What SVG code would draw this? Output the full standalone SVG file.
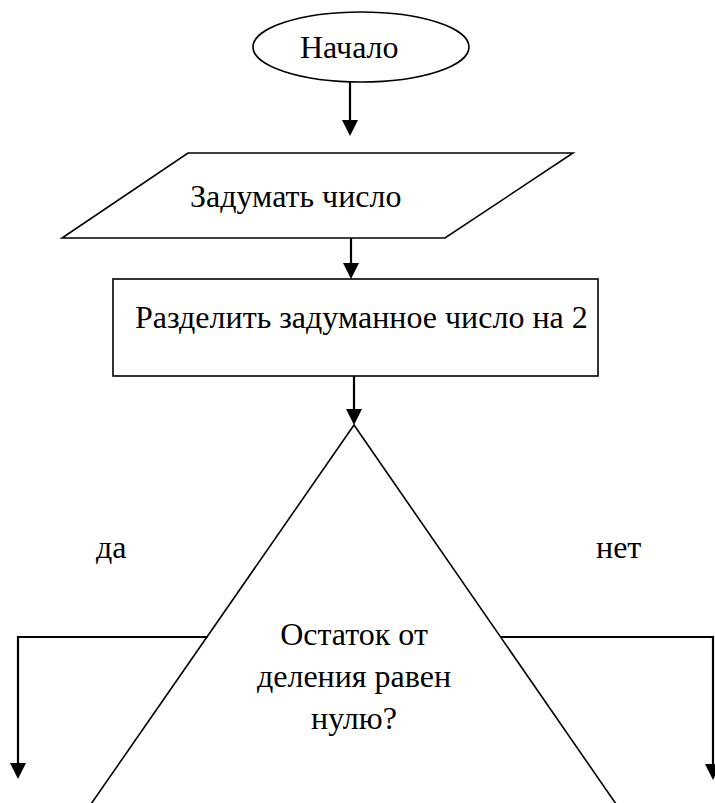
<svg xmlns="http://www.w3.org/2000/svg" width="715" height="803" viewBox="0 0 715 803">
<style>
.s{fill:#fff;stroke:#000;stroke-width:1.6}
.c{fill:none;stroke:#000;stroke-width:2.2}
text{font-family:"Liberation Serif","DejaVu Serif","Times New Roman",serif;font-size:32px;fill:#000}
</style>
<rect width="715" height="803" fill="#fff"/>
<g id="start">
<ellipse class="s" cx="361" cy="47" rx="108" ry="35"/>
<text x="300" y="58" font-family="Liberation Serif, serif">Начало</text>
</g>
<g id="input">
<polygon class="s" points="188,153 573,153 445,238 62,238"/>
<text x="190" y="207" font-family="Liberation Serif, serif">Задумать число</text>
</g>
<g id="process">
<rect class="s" x="113" y="279" width="485" height="97"/>
<text x="135" y="328" font-family="Liberation Serif, serif">Разделить задуманное число на 2</text>
</g>
<g id="decision">
<polygon class="s" points="354,425 73,830 634,830"/>
<text text-anchor="middle" x="354" y="645" font-family="Liberation Serif, serif">Остаток от</text>
<text text-anchor="middle" x="354" y="687" font-family="Liberation Serif, serif">деления равен</text>
<text text-anchor="middle" x="354" y="729" font-family="Liberation Serif, serif">нулю?</text>
</g>
<g id="labels">
<text x="96" y="558" font-family="Liberation Serif, serif">да</text>
<text x="596" y="558" font-family="Liberation Serif, serif">нет</text>
</g>
<g id="connectors">
<line class="c" x1="350" y1="82" x2="350" y2="120"/>
<path d="M342,120 L358,120 L350,136 Z"/>
<line class="c" x1="351" y1="238" x2="351" y2="263"/>
<path d="M343,263 L359,263 L351,279 Z"/>
<line class="c" x1="354" y1="376" x2="354" y2="409"/>
<path d="M346,409 L362,409 L354,425 Z"/>
<polyline class="c" points="208,637 18,637 18,763"/>
<path d="M10,763 L26,763 L18,779 Z"/>
<polyline class="c" points="500,637 713,637 713,764"/>
<path d="M705,764 L721,764 L713,780 Z"/>
</g>
</svg>
